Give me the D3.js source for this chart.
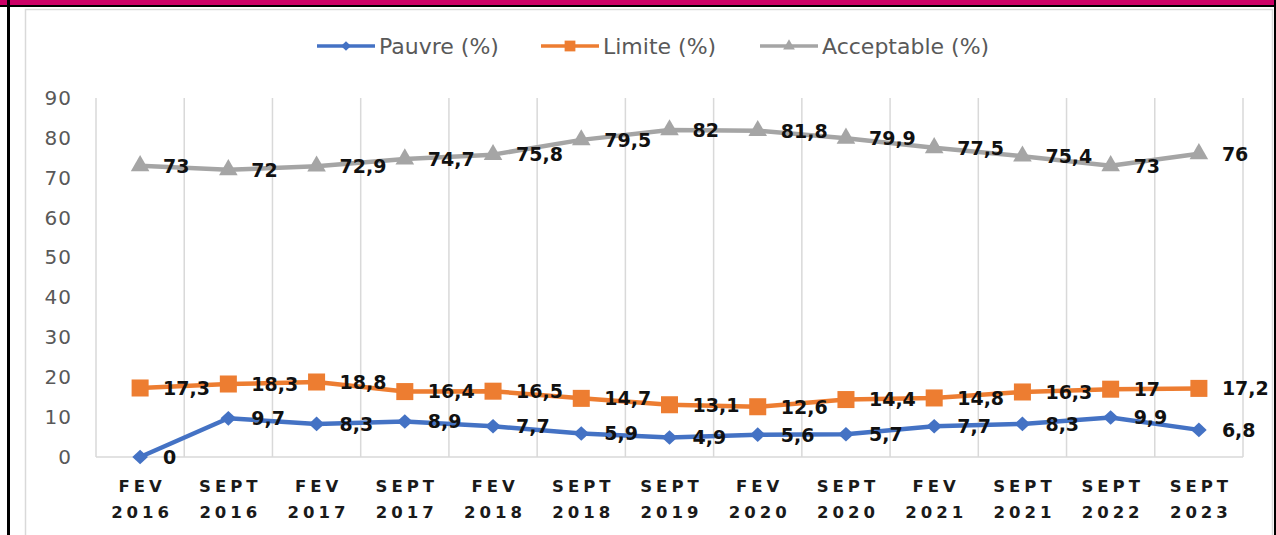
<!DOCTYPE html>
<html lang="fr">
<head>
<meta charset="utf-8">
<title>Pauvre / Limite / Acceptable</title>
<script src="https://cdn.jsdelivr.net/npm/d3@7"></script>
<style>
  body { margin: 0; background: #fff; }
  svg { display: block; }
</style>
</head>
<body>
<script>
// categories (two lines each)
var periods = [["FEV","2016"],["SEPT","2016"],["FEV","2017"],["SEPT","2017"],["FEV","2018"],
               ["SEPT","2018"],["SEPT","2019"],["FEV","2020"],["SEPT","2020"],["FEV","2021"],
               ["SEPT","2021"],["SEPT","2022"],["SEPT","2023"]];
var pauvre     = [0, 9.7, 8.3, 8.9, 7.7, 5.9, 4.9, 5.6, 5.7, 7.7, 8.3, 9.9, 6.8];
var limite     = [17.3, 18.3, 18.8, 16.4, 16.5, 14.7, 13.1, 12.6, 14.4, 14.8, 16.3, 17, 17.2];
var acceptable = [73, 72, 72.9, 74.7, 75.8, 79.5, 82, 81.8, 79.9, 77.5, 75.4, 73, 76];
var yTicks = [0, 10, 20, 30, 40, 50, 60, 70, 80, 90];

var W = 1276, H = 535;
var svg = d3.select("body").append("svg").attr("width", W).attr("height", H);

// frame: magenta band, black edges, light chart box
svg.append("rect").attr("x", 0).attr("y", 0).attr("width", W).attr("height", 6).attr("fill", "#cc0066");
svg.append("rect").attr("x", 0).attr("y", 5).attr("width", W).attr("height", 2).attr("fill", "#000");
svg.append("rect").attr("x", 7).attr("y", 0).attr("width", 3).attr("height", H).attr("fill", "#000");
svg.append("rect").attr("x", 1274).attr("y", 0).attr("width", 2).attr("height", H).attr("fill", "#000");
svg.append("path").attr("d", "M25.5,540V9.5H1272.5V540").attr("fill", "none").attr("stroke", "#d9d9d9").attr("stroke-width", 1.5);

var plotL = 96, plotR = 1243, plotT = 98, plotB = 457;

var x = d3.scaleBand().domain(d3.range(periods.length)).range([plotL, plotR]);
var y = d3.scaleLinear().domain([0, 90]).range([plotB, plotT]);
var cx = function(i) { return x(i) + x.bandwidth() / 2; };

// vertical gridlines at category boundaries
var bounds = d3.range(periods.length + 1).map(function(i) { return plotL + i * x.step(); });
svg.append("g").selectAll("line").data(bounds).enter().append("line")
  .attr("x1", function(d) { return d; }).attr("x2", function(d) { return d; })
  .attr("y1", plotT).attr("y2", plotB)
  .attr("stroke", "#d9d9d9").attr("stroke-width", 1.5);
svg.append("line").attr("x1", plotL).attr("x2", plotR).attr("y1", plotB).attr("y2", plotB)
  .attr("stroke", "#d9d9d9").attr("stroke-width", 1.5);

// y axis labels
var yAxis = d3.axisLeft(y).tickValues(yTicks).tickSize(0).tickPadding(24);
var gy = svg.append("g").attr("transform", "translate(" + plotL + ",0)").call(yAxis);
gy.select(".domain").remove();
gy.selectAll("text").attr("font-family", "DejaVu Sans").attr("font-size", 20)
  .attr("fill", "#595959").attr("letter-spacing", 1);

// x axis labels
var gx = svg.append("g");
periods.forEach(function(p, i) {
  var t = gx.append("text").attr("text-anchor", "middle")
    .attr("font-family", "DejaVu Sans").attr("font-weight", "bold").attr("font-size", 16.5)
    .attr("letter-spacing", 4).attr("fill", "#1a1a1a");
  t.append("tspan").attr("x", cx(i) + 2).attr("y", 492).text(p[0]);
  t.append("tspan").attr("x", cx(i) + 2).attr("y", 518).text(p[1]);
});

var series = [
  { name: "Pauvre (%)", values: pauvre, color: "#4472c4", symbol: d3.symbolDiamond, size: 62, sx: 1.85 },
  { name: "Limite (%)", values: limite, color: "#ed7d31", symbol: d3.symbolSquare, size: 290, sx: 1 },
  { name: "Acceptable (%)", values: acceptable, color: "#a5a5a5", symbol: d3.symbolTriangle, size: 150, sx: 1 }
];

var line = d3.line()
  .x(function(d, i) { return cx(i); })
  .y(function(d) { return y(d); });

series.forEach(function(s) {
  svg.append("path").datum(s.values).attr("d", line)
    .attr("fill", "none").attr("stroke", s.color).attr("stroke-width", 4.5)
    .attr("stroke-linejoin", "round");
  svg.append("g").selectAll("path").data(s.values).enter().append("path")
    .attr("d", d3.symbol().type(s.symbol).size(s.size))
    .attr("transform", function(d, i) {
      return "translate(" + cx(i) + "," + y(d) + ") scale(" + s.sx + ",1)";
    })
    .attr("fill", s.color);
  svg.append("g").selectAll("text").data(s.values).enter().append("text")
    .attr("x", function(d, i) { return cx(i) + 23; })
    .attr("y", function(d) { return y(d); })
    .attr("dy", "0.36em")
    .attr("font-family", "DejaVu Sans").attr("font-weight", "bold").attr("font-size", 19)
    .attr("fill", "#111")
    .text(function(d) { return String(d).replace(".", ","); });
});

// legend
var legendX = [317, 541, 760];
series.forEach(function(s, i) {
  var g = svg.append("g").attr("transform", "translate(" + legendX[i] + ",46)");
  g.append("line").attr("x1", 0).attr("x2", 58).attr("y1", 0).attr("y2", 0)
    .attr("stroke", s.color).attr("stroke-width", 3.5);
  g.append("path").attr("d", d3.symbol().type(s.symbol).size(s.size * 0.4))
    .attr("transform", "translate(29,0) scale(" + s.sx + ",1)").attr("fill", s.color);
  g.append("text").attr("x", 62).attr("y", 0).attr("dy", "0.36em")
    .attr("font-family", "DejaVu Sans").attr("font-size", 22).attr("fill", "#595959")
    .text(s.name);
});
</script>
</body>
</html>
